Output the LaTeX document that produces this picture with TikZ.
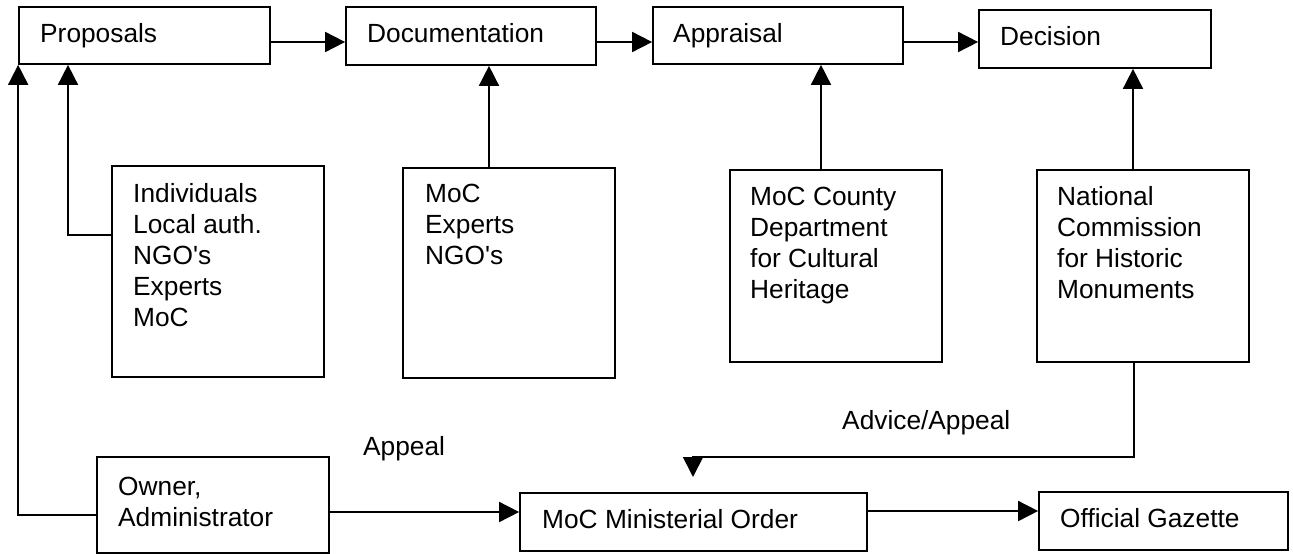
\documentclass[tikz,border=0pt]{standalone}
\usepackage{fontspec}
\setmainfont{Liberation Sans}
\usetikzlibrary{arrows.meta,fit}
\tikzset{
  box/.style={draw=black, line width=1.7pt, inner sep=0pt, fill=none},
  lbl/.style={inner sep=0pt, anchor=base west, font=\fontsize{26.3}{31}\selectfont},
  arr/.style={line width=1.7pt, -{Triangle[length=20pt,width=20pt]}},
  ln/.style={line width=1.7pt}
}
\newcommand{\mkbox}[5]{\path (#2,#3) coordinate (#1nw) (#4,#5) coordinate (#1se);
  \node[box, fit=(#1nw)(#1se)] (#1) {};}
\newcommand{\apos}{\textquotesingle}
\begin{document}
\begin{tikzpicture}[x=1pt,y=-1pt]
\useasboundingbox (0,0) rectangle (1293,554);
% boxes
\mkbox{prop}{19}{7}{270}{64}
\mkbox{doc}{346}{7}{596}{65}
\mkbox{appr}{653}{7}{903}{64}
\mkbox{dec}{979}{10}{1211}{68}
\mkbox{ind}{112}{166}{324}{377}
\mkbox{mocd}{403}{168}{615}{378}
\mkbox{mocc}{730}{170}{942}{362}
\mkbox{nchm}{1037}{170}{1249}{362}
\mkbox{own}{97}{457}{329}{553}
\mkbox{mino}{520}{493}{867}{551}
\mkbox{gaz}{1039}{492}{1288}{550}
% texts
\node[lbl] (tprop) at (40,42) {Proposals};
\node[lbl] (tdoc) at (367,42) {Documentation};
\node[lbl] (tappr) at (673,42) {Appraisal};
\node[lbl] (tdec) at (1000,45) {Decision};
\node[lbl] (tind) at (133,202) {\begin{tabular}[t]{@{}l@{}}Individuals\\Local auth.\\NGO\apos s\\Experts\\MoC\end{tabular}};
\node[lbl] (tmocd) at (425,202) {\begin{tabular}[t]{@{}l@{}}MoC\\Experts\\NGO\apos s\end{tabular}};
\node[lbl] (tmocc) at (750,205) {\begin{tabular}[t]{@{}l@{}}MoC County\\Department\\for Cultural\\Heritage\end{tabular}};
\node[lbl] (tnchm) at (1057,205) {\begin{tabular}[t]{@{}l@{}}National\\Commission\\for Historic\\Monuments\end{tabular}};
\node[lbl] (town) at (118,495) {\begin{tabular}[t]{@{}l@{}}Owner,\\Administrator\end{tabular}};
\node[lbl] (tmino) at (542,528) {MoC Ministerial Order};
\node[lbl] (tgaz) at (1060,527) {Official Gazette};
\node[lbl] (tappeal) at (363,455) {Appeal};
\node[lbl] (tadv) at (842,429) {Advice/Appeal};
% connectors
\draw[arr] (prop.east |- 0,42) -- (doc.west |- 0,42);
\draw[arr] (doc.east |- 0,42) -- (appr.west |- 0,42);
\draw[arr] (appr.east |- 0,42) -- (dec.west |- 0,42);
\draw[arr] (ind.west |- 0,235) -| (prop.south -| 68,0);
\draw[arr] (own.west |- 0,515) -| (prop.south west);
\draw[arr] (mocd.north -| 489,0) -- (doc.south -| 489,0);
\draw[arr] (mocc.north -| 821,0) -- (appr.south -| 821,0);
\draw[arr] (nchm.north -| 1133,0) -- (dec.south -| 1133,0);
\coordinate (advtip) at (693,477);
\draw[arr] (nchm.south -| 1134,0) |- (advtip |- 0,457) -- (advtip);
\draw[arr] (own.east |- 0,512) -- (mino.west |- 0,512);
\draw[arr] (mino.east |- 0,511) -- (gaz.west |- 0,511);
\end{tikzpicture}
\end{document}
